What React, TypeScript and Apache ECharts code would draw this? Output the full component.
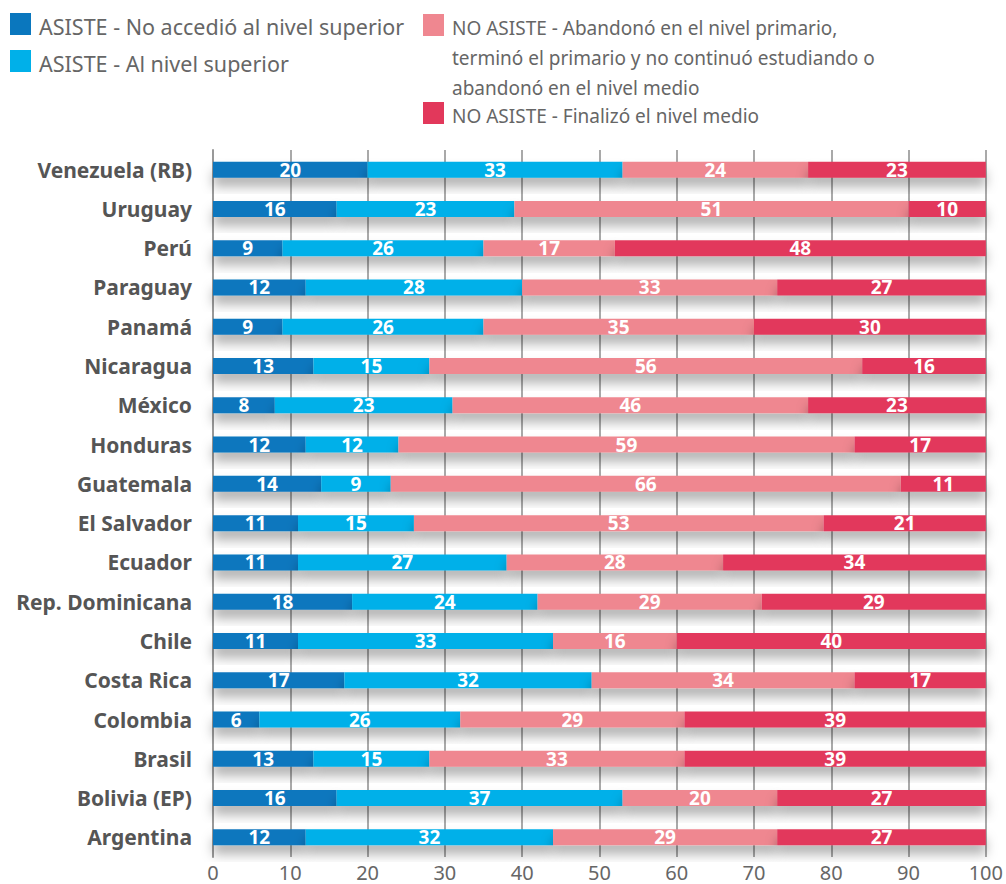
import React, { useEffect, useRef } from "react";
import * as echarts from "echarts";

const countries = [
  "Venezuela (RB)", "Uruguay", "Perú", "Paraguay", "Panamá", "Nicaragua", "México",
  "Honduras", "Guatemala", "El Salvador", "Ecuador", "Rep. Dominicana", "Chile",
  "Costa Rica", "Colombia", "Brasil", "Bolivia (EP)", "Argentina",
];

const asisteNoAccedio = [20, 16, 9, 12, 9, 13, 8, 12, 14, 11, 11, 18, 11, 17, 6, 13, 16, 12];
const asisteSuperior = [33, 23, 26, 28, 26, 15, 23, 12, 9, 15, 27, 24, 33, 32, 26, 15, 37, 32];
const noAsisteAbandono = [24, 51, 17, 33, 35, 56, 46, 59, 66, 53, 28, 29, 16, 34, 29, 33, 20, 29];
const noAsisteFinalizo = [23, 10, 48, 27, 30, 16, 23, 17, 11, 21, 34, 29, 40, 17, 39, 39, 27, 27];

const seriesNames = [
  "ASISTE - No accedió al nivel superior",
  "ASISTE - Al nivel superior",
  "NO ASISTE - Abandonó en el nivel primario, terminó el primario y no continuó estudiando o abandonó en el nivel medio",
  "NO ASISTE - Finalizó el nivel medio",
];
const legendLabels = [
  "ASISTE - No accedió al nivel superior",
  "ASISTE - Al nivel superior",
  "NO ASISTE - Abandonó en el nivel primario,\nterminó el primario y no continuó estudiando o\nabandonó en el nivel medio",
  "NO ASISTE - Finalizó el nivel medio",
];
const colors = ["#0a77be", "#00b0e9", "#ef8790", "#e2385b"];
const seriesData = [asisteNoAccedio, asisteSuperior, noAsisteAbandono, noAsisteFinalizo];

const FONT = "'Noto Sans', 'Open Sans', sans-serif";

export default function App() {
  const ref = useRef<HTMLDivElement>(null);
  useEffect(() => {
    if (!ref.current) return;
    const chart = echarts.init(ref.current, null, { renderer: "svg" });
    const legendItems = [
      { x: 10, y: 13, fs: 21.5, ty: -2 },
      { x: 10, y: 50, fs: 21.5, ty: -2 },
      { x: 423, y: 14, fs: 19, ty: -1 },
      { x: 423, y: 102, fs: 19, ty: -1 },
    ];
    const graphic: any[] = [];
    legendLabels.forEach((lbl, i) => {
      const p = legendItems[i];
      graphic.push({
        type: "rect",
        left: p.x,
        top: p.y,
        shape: { width: 21, height: 22 },
        style: { fill: colors[i] },
      });
      graphic.push({
        type: "text",
        left: p.x + 29,
        top: p.y + p.ty,
        style: {
          text: lbl,
          fill: "#666666",
          font: `${p.fs}px ${FONT}`,
          lineHeight: 30,
        },
      });
    });
    chart.setOption({
      animation: false,
      textStyle: { fontFamily: FONT },
      grid: { left: 213, right: 20, top: 150, bottom: 27, containLabel: false },
      graphic,
      xAxis: {
        type: "value",
        min: 0,
        max: 100,
        interval: 10,
        axisLine: { show: false },
        axisTick: { show: false },
        splitLine: { show: true, lineStyle: { color: "#8c8c8c", width: 1.5 } },
        axisLabel: { color: "#666666", fontSize: 20, margin: 5, fontFamily: FONT },
      },
      yAxis: {
        type: "category",
        inverse: true,
        data: countries,
        axisLine: { show: true, lineStyle: { color: "#999999", width: 2 } },
        axisTick: { show: false },
        axisLabel: {
          color: "#555555",
          fontSize: 21,
          fontWeight: "bold",
          margin: 21,
          fontFamily: FONT,
        },
      },
      series: seriesData.map((d, i) => ({
        type: "bar",
        name: seriesNames[i],
        stack: "total",
        data: d,
        barWidth: 16,
        itemStyle: {
          color: colors[i],
          shadowColor: "rgba(0,0,0,0.3)",
          shadowBlur: 12,
          shadowOffsetY: 9,
        },
        label: {
          show: true,
          position: "inside",
          color: "#ffffff",
          fontSize: 19,
          fontWeight: "bold",
          fontFamily: FONT,
        },
      })),
    });
    return () => chart.dispose();
  }, []);
  return (
    <div
      ref={ref}
      style={{ position: "fixed", left: 0, top: 0, width: 1006, height: 884, background: "#ffffff" }}
    />
  );
}
